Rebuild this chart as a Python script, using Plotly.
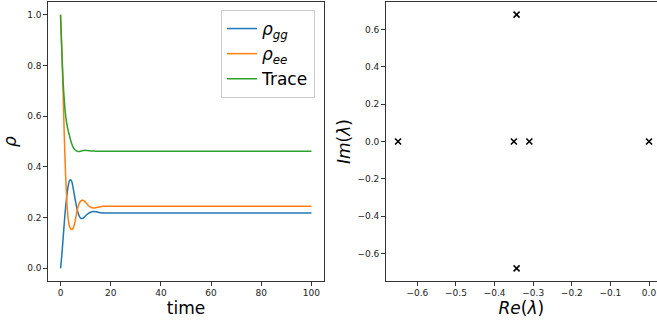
import plotly.graph_objects as go

# ---- data ----
time = [0, 0.5, 1, 1.5, 2, 2.5, 3, 3.5, 4, 4.5, 5, 5.5, 6, 6.5, 7, 7.5, 8, 8.5, 9, 9.5,
        10, 10.5, 11, 11.5, 12, 13, 14, 15, 16, 17, 18, 20, 30, 50, 100]
rho_gg = [0.0, 0.05, 0.115, 0.18, 0.24, 0.285, 0.322, 0.345, 0.349, 0.341, 0.318, 0.29, 0.262, 0.238, 0.218,
          0.205, 0.198, 0.196, 0.198, 0.202, 0.207, 0.212, 0.216, 0.219, 0.221, 0.224, 0.223, 0.221, 0.219,
          0.218, 0.218, 0.218, 0.218, 0.218, 0.218]
rho_ee = [1.0, 0.86, 0.70, 0.52, 0.37, 0.265, 0.2, 0.168, 0.156, 0.153, 0.158, 0.172, 0.195, 0.222, 0.243,
          0.257, 0.265, 0.268, 0.268, 0.265, 0.26, 0.254, 0.248, 0.244, 0.241, 0.238, 0.239, 0.241, 0.243,
          0.245, 0.245, 0.245, 0.245, 0.245, 0.245]
trace = [1.0, 0.86, 0.74, 0.66, 0.605, 0.57, 0.545, 0.525, 0.506, 0.49, 0.478, 0.47, 0.465, 0.462, 0.461,
         0.461, 0.462, 0.463, 0.464, 0.465, 0.465, 0.465, 0.464, 0.464, 0.463, 0.463, 0.462, 0.462, 0.462,
         0.462, 0.462, 0.462, 0.462, 0.462, 0.462]

eig_re = [-0.65, -0.35, -0.31, 0.0, -0.343, -0.343]
eig_im = [0.0, 0.0, 0.0, 0.0, 0.68, -0.68]

x_ticks_left = [0, 20, 40, 60, 80, 100]
y_ticks_left = [0.0, 0.2, 0.4, 0.6, 0.8, 1.0]
x_ticks_right = [-0.6, -0.5, -0.4, -0.3, -0.2, -0.1, 0.0]
y_ticks_right = [-0.6, -0.4, -0.2, 0.0, 0.2, 0.4, 0.6]

W, H = 657, 328
FONT = "DejaVu Sans"

fig = go.Figure()
line_kw = dict(width=1.5, shape="spline", smoothing=0.5)
fig.add_trace(go.Scatter(x=time, y=rho_gg, mode="lines", line=dict(color="#1f77b4", **line_kw),
                         name="<i>ρ</i><sub><i>gg</i></sub>", xaxis="x", yaxis="y"))
fig.add_trace(go.Scatter(x=time, y=rho_ee, mode="lines", line=dict(color="#ff7f0e", **line_kw),
                         name="<i>ρ</i><sub><i>ee</i></sub>", xaxis="x", yaxis="y"))
fig.add_trace(go.Scatter(x=time, y=trace, mode="lines", line=dict(color="#2ca02c", **line_kw),
                         name="Trace", xaxis="x", yaxis="y"))
fig.add_trace(go.Scatter(x=eig_re, y=eig_im, mode="markers",
                         marker=dict(symbol="x-thin", size=6, color="black", line=dict(color="black", width=1.6)),
                         showlegend=False, xaxis="x2", yaxis="y2"))

axis_common = dict(showgrid=False, zeroline=False, showline=True, linecolor="#333", linewidth=1.2,
                   ticks="outside", ticklen=3.5, tickwidth=1, tickcolor="#333",
                   tickfont=dict(family=FONT, size=9, color="#222"))

fig.update_layout(
    width=W, height=H,
    margin=dict(l=0, r=0, t=0, b=0),
    paper_bgcolor="white", plot_bgcolor="white",
    font=dict(family=FONT),
    xaxis=dict(domain=[48/W, 324/W], range=[-5, 105], tickvals=x_ticks_left, mirror=True,
               title=dict(text="time", font=dict(size=17, family=FONT, color="black"), standoff=4),
               anchor="y", **axis_common),
    yaxis=dict(domain=[1-281/H, 1-2/H], range=[-0.05, 1.05], tickvals=y_ticks_left, tickformat=".1f", mirror=True,
               title=dict(text="<i>ρ</i>", font=dict(size=17, family=FONT, color="black"), standoff=8),
               anchor="x", **axis_common),
    xaxis2=dict(domain=[385.7/W, 1.0], range=[-0.682, 0.0207], tickvals=x_ticks_right, tickformat=".1f", mirror=True,
                title=dict(text="<i>Re</i>(<i>λ</i>)", font=dict(size=17, family=FONT, color="black"), standoff=4),
                anchor="y2", **axis_common),
    yaxis2=dict(domain=[1-281/H, 1-2/H], range=[-0.748, 0.748], tickvals=y_ticks_right, tickformat=".1f", mirror=False,
                title=dict(text="<i>Im</i>(<i>λ</i>)", font=dict(size=17, family=FONT, color="black"), standoff=2),
                anchor="x2", **axis_common),
    legend=dict(x=315/W, y=1-10/H, xanchor="right", yanchor="top", bgcolor="rgba(255,255,255,0.8)",
                bordercolor="#cccccc", borderwidth=1, font=dict(family=FONT, size=17, color="black"),
                tracegroupgap=0, itemwidth=30),
)

fig.write_html("out.html")
